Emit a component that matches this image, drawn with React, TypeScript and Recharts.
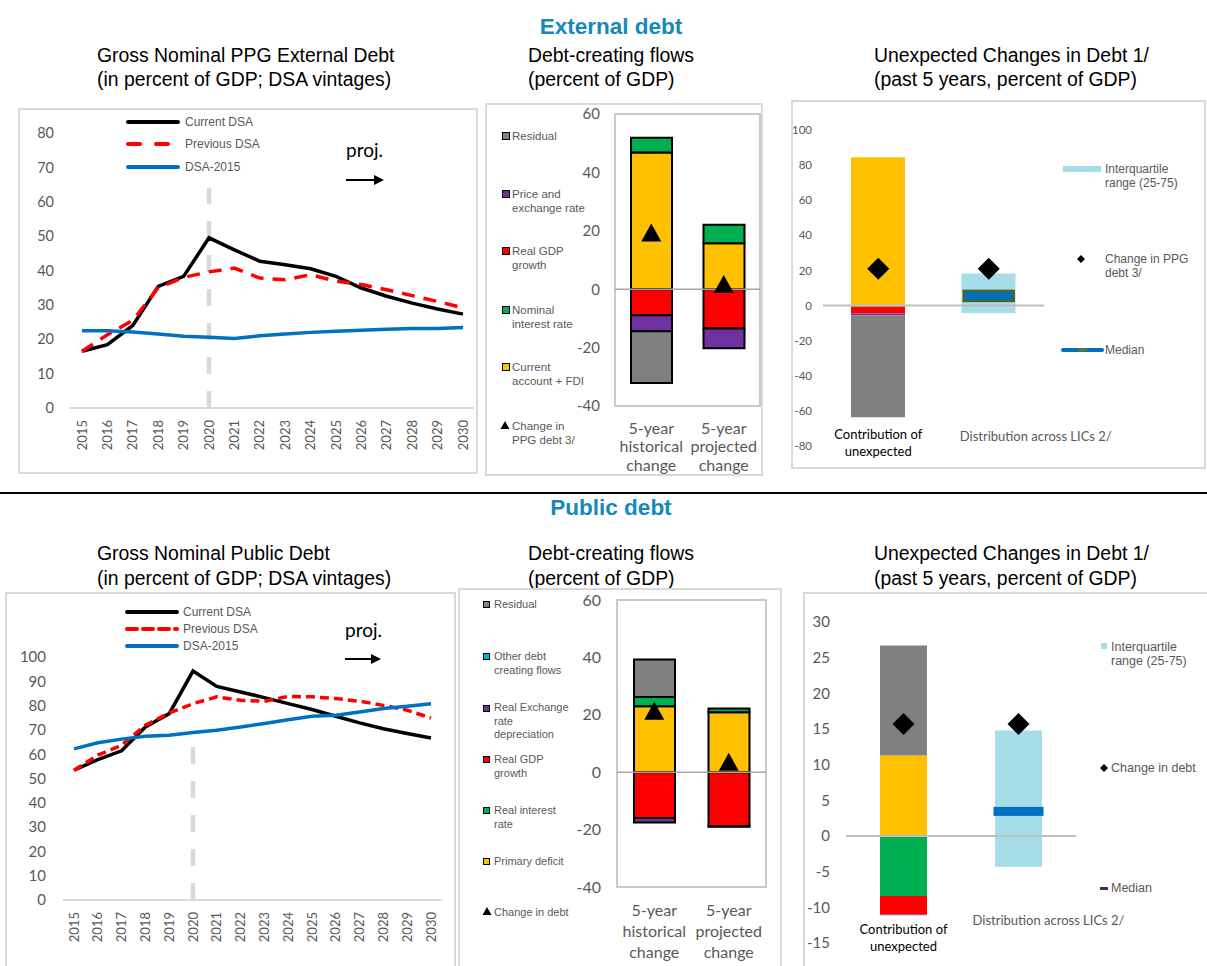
import React from 'react';
import {
  Bar,
  ComposedChart,
  Line,
  LineChart,
  ReferenceArea,
  ReferenceLine,
  XAxis,
  YAxis,
} from 'recharts';

// ---- data -------------------------------------------------------------

const YEARS = [
  '2015', '2016', '2017', '2018', '2019', '2020', '2021', '2022',
  '2023', '2024', '2025', '2026', '2027', '2028', '2029', '2030',
];

const EXT_CURRENT = [16.5, 18.4, 24.0, 35.4, 38.3, 49.5, 46.0, 42.7, 41.7, 40.5, 38.3, 34.9, 32.5, 30.5, 28.8, 27.3];
const EXT_PREVIOUS = [16.5, 21.3, 25.5, 35.0, 38.0, 39.6, 40.7, 37.8, 37.3, 38.8, 36.9, 35.9, 34.4, 32.7, 31.0, 29.1];
const EXT_DSA2015 = [22.5, 22.5, 22.1, 21.5, 20.9, 20.6, 20.2, 21.0, 21.5, 22.0, 22.3, 22.6, 22.9, 23.1, 23.1, 23.4];

const PUB_CURRENT = [53.4, 57.8, 61.4, 71.2, 76.7, 94.2, 87.9, 85.6, 83.3, 80.8, 78.4, 75.6, 72.9, 70.5, 68.5, 66.7];
const PUB_PREVIOUS = [53.4, 59.6, 63.7, 71.9, 77.0, 80.8, 83.6, 82.2, 81.8, 83.8, 83.6, 82.9, 81.8, 80.1, 78.1, 74.9];
const PUB_DSA2015 = [62.2, 64.7, 66.2, 67.4, 67.8, 68.9, 69.9, 71.2, 72.6, 74.2, 75.6, 76.0, 77.4, 78.8, 79.7, 80.8];

const EXT_TICKS = [0, 10, 20, 30, 40, 50, 60, 70, 80];
const PUB_TICKS = [0, 10, 20, 30, 40, 50, 60, 70, 80, 90, 100];

const FLOW_CATS = ['5-year historical change', '5-year projected change'];

// external debt-creating flows
const EXT_FLOW_CA = [46.8, 15.7];
const EXT_FLOW_INTEREST = [5.1, 6.4];
const EXT_FLOW_GDP = [-8.9, -13.5];
const EXT_FLOW_PRICE = [-5.5, -6.7];
const EXT_FLOW_RESIDUAL = [-17.7, 0];
const EXT_FLOW_CHANGE = [19.4, 1.8];

// public debt-creating flows
const PUB_FLOW_PRIMARY = [23.0, 20.9];
const PUB_FLOW_INTEREST = [3.2, 1.3];
const PUB_FLOW_GDP = [-16.0, -18.8];
const PUB_FLOW_RER = [-1.5, -0.2];
const PUB_FLOW_OTHER = [0, 0];
const PUB_FLOW_RESIDUAL = [13.1, 0];
const PUB_FLOW_CHANGE = [21.4, 3.6];

const FLOW_TICKS = [-40, -20, 0, 20, 40, 60];

// unexpected changes, external
const UNEXP_CATS = ['Contribution of unexpected', 'Distribution across LICs 2/'];
const EXT_UNEXP_CA = [84.5, 0];
const EXT_UNEXP_INTEREST = [-0.7, 0];
const EXT_UNEXP_GDP = [-3.8, 0];
const EXT_UNEXP_PRICE = [-1.0, 0];
const EXT_UNEXP_RESIDUAL = [-58.1, 0];
const EXT_IQR_LOW = [0, -4.2];
const EXT_IQR_HIGH = [0, 18.2];
const EXT_MEDIAN = [null, 5.5];
const EXT_UNEXP_CHANGE = [20.9, 20.9];
const EXT_UNEXP_TICKS = [-80, -60, -40, -20, 0, 20, 40, 60, 80, 100];

// unexpected changes, public
const PUB_UNEXP_PRIMARY = [11.3, 0];
const PUB_UNEXP_INTEREST = [-8.4, 0];
const PUB_UNEXP_GDP = [-2.6, 0];
const PUB_UNEXP_RER = [-0.1, 0];
const PUB_UNEXP_RESIDUAL = [15.4, 0];
const PUB_IQR_LOW = [0, -4.3];
const PUB_IQR_HIGH = [0, 14.8];
const PUB_MEDIAN = [null, 3.45];
const PUB_UNEXP_CHANGE = [15.7, 15.7];
const PUB_UNEXP_TICKS = [-15, -10, -5, 0, 5, 10, 15, 20, 25, 30];

const EXT_UNEXP_LABELS = [['Contribution  of', 'unexpected'], ['Distribution  across  LICs 2/']];
const PUB_UNEXP_LABELS = [['Contribution  of', 'unexpected'], ['Distribution across LICs  2/']];

// ---- styles -----------------------------------------------------------

const ARIAL = '"Liberation Sans", Arial, sans-serif';
const CAL = 'Lato, "Open Sans", sans-serif';
const GRAY_TEXT = '#595959';
const BOX = '#d9d9d9';
const YELLOW = '#ffc000';
const GREEN = '#00b050';
const RED = '#ff0000';
const PURPLE = '#7030a0';
const GREY = '#808080';
const CYAN = '#00b0f0';
const LIGHT_BLUE = '#a5dde8';
const BLUE = '#0070c0';
const SECTION_BLUE = '#1589b9';

const extLineData = YEARS.map((year, i) => ({
  year,
  current: EXT_CURRENT[i],
  previous: EXT_PREVIOUS[i],
  dsa2015: EXT_DSA2015[i],
}));

const pubLineData = YEARS.map((year, i) => ({
  year,
  current: PUB_CURRENT[i],
  previous: PUB_PREVIOUS[i],
  dsa2015: PUB_DSA2015[i],
}));

const extFlowData = FLOW_CATS.map((cat, i) => ({
  cat,
  ca: EXT_FLOW_CA[i],
  interest: EXT_FLOW_INTEREST[i],
  gdp: EXT_FLOW_GDP[i],
  price: EXT_FLOW_PRICE[i],
  residual: EXT_FLOW_RESIDUAL[i],
  change: EXT_FLOW_CHANGE[i],
}));

const pubFlowData = FLOW_CATS.map((cat, i) => ({
  cat,
  primary: PUB_FLOW_PRIMARY[i],
  interest: PUB_FLOW_INTEREST[i],
  gdp: PUB_FLOW_GDP[i],
  rer: PUB_FLOW_RER[i],
  other: PUB_FLOW_OTHER[i],
  residual: PUB_FLOW_RESIDUAL[i],
  change: PUB_FLOW_CHANGE[i],
}));

const extUnexpData = UNEXP_CATS.map((cat, i) => ({
  cat,
  ca: EXT_UNEXP_CA[i],
  interest: EXT_UNEXP_INTEREST[i],
  gdp: EXT_UNEXP_GDP[i],
  price: EXT_UNEXP_PRICE[i],
  residual: EXT_UNEXP_RESIDUAL[i],
  iqrLow: EXT_IQR_LOW[i],
  iqrHigh: EXT_IQR_HIGH[i],
  median: EXT_MEDIAN[i],
  change: EXT_UNEXP_CHANGE[i],
}));

const pubUnexpData = UNEXP_CATS.map((cat, i) => ({
  cat,
  primary: PUB_UNEXP_PRIMARY[i],
  interest: PUB_UNEXP_INTEREST[i],
  gdp: PUB_UNEXP_GDP[i],
  rer: PUB_UNEXP_RER[i],
  residual: PUB_UNEXP_RESIDUAL[i],
  iqrLow: PUB_IQR_LOW[i],
  iqrHigh: PUB_IQR_HIGH[i],
  median: PUB_MEDIAN[i],
  change: PUB_UNEXP_CHANGE[i],
}));

// ---- small shapes -----------------------------------------------------

function YearTick({ x, y, payload }: any) {
  return (
    <g transform={`translate(${x},${y}) rotate(-90)`}>
      <text x={0} y={0} dy="0.35em" textAnchor="end" fill={GRAY_TEXT} fontSize={13} fontFamily={CAL}>
        {payload.value}
      </text>
    </g>
  );
}

function makeFlowTick(first: number, step: number) {
  return ({ x, y, payload }: any) => (
    <text x={x} y={y} textAnchor="middle" fill={GRAY_TEXT} fontSize={16} fontFamily={CAL}>
      {String(payload.value)
        .split(' ')
        .map((w, i) => (
          <tspan key={w} x={x} y={y + first + i * step} dy="0.35em">
            {w}
          </tspan>
        ))}
    </text>
  );
}

function makeUnexpTick(labels: string[][], offsets: { dx: number; dy: number[] }[]) {
  return ({ x, y, index }: any) => {
    const lines = labels[index] || [];
    const off = offsets[index];
    return (
      <text
        x={x + off.dx}
        y={y}
        textAnchor="middle"
        fill={index === 0 ? '#000' : GRAY_TEXT}
        fontSize={13}
        fontFamily={CAL}
      >
        {lines.map((l, i) => (
          <tspan key={l} x={x + off.dx} y={y + off.dy[i]} dy="0.35em">
            {l}
          </tspan>
        ))}
      </text>
    );
  };
}

const triangleDot = (props: any) => {
  const { cx, cy, index } = props;
  if (cx == null || cy == null || Number.isNaN(cy)) return <g key={`t${index}`} />;
  return (
    <polygon
      key={`t${index}`}
      points={`${cx},${cy - 9} ${cx + 10},${cy + 9} ${cx - 10},${cy + 9}`}
      fill="#000"
    />
  );
};

const diamondDot = (props: any) => {
  const { cx, cy, index } = props;
  if (cx == null || cy == null || Number.isNaN(cy)) return <g key={`d${index}`} />;
  return (
    <polygon
      key={`d${index}`}
      points={`${cx},${cy - 11} ${cx + 11},${cy} ${cx},${cy + 11} ${cx - 11},${cy}`}
      fill="#000"
    />
  );
};

function makeMedianDot(w: number, h: number, stroke?: string) {
  return (props: any) => {
    const { cx, cy, index } = props;
    if (cx == null || cy == null || Number.isNaN(cy)) return <g key={`m${index}`} />;
    return (
      <rect
        key={`m${index}`}
        x={cx - w / 2}
        y={cy - h / 2}
        width={w}
        height={h}
        fill={BLUE}
        stroke={stroke || 'none'}
        strokeWidth={stroke ? 2.5 : 0}
      />
    );
  };
}

// ---- layout helpers ---------------------------------------------------

const Box = ({ left, top, width, height }: any) => (
  <div
    style={{
      position: 'absolute',
      left,
      top,
      width,
      height,
      border: `2px solid ${BOX}`,
      boxSizing: 'border-box',
    }}
  />
);

// panel titles are left-aligned blocks
const Title = ({ left, top, lines, lineHeight }: any) => (
  <div
    style={{
      position: 'absolute',
      left,
      top,
      fontFamily: ARIAL,
      fontSize: 19.4,
      lineHeight: `${lineHeight}px`,
      color: '#000',
      whiteSpace: 'pre',
    }}
  >
    {lines.join('\n')}
  </div>
);

const SectionTitle = ({ cy, text }: any) => (
  <div
    style={{
      position: 'absolute',
      left: 411,
      top: cy - 14,
      width: 400,
      textAlign: 'center',
      fontFamily: ARIAL,
      fontWeight: 'bold',
      fontSize: 22.5,
      lineHeight: '28px',
      color: SECTION_BLUE,
    }}
  >
    {text}
  </div>
);

// cy = centre of the first line
const LegendText = ({ left, cy, text, size, lh }: any) => (
  <div
    style={{
      position: 'absolute',
      left,
      top: cy - lh / 2,
      fontFamily: ARIAL,
      fontSize: size,
      lineHeight: `${lh}px`,
      color: GRAY_TEXT,
      whiteSpace: 'pre',
    }}
  >
    {text}
  </div>
);

const Square = ({ left, cy, size, color }: any) => (
  <div
    style={{
      position: 'absolute',
      left,
      top: cy - size / 2,
      width: size,
      height: size,
      background: color,
      border: '1px solid #000',
      boxSizing: 'border-box',
    }}
  />
);

const SmallTriangle = ({ left, cy }: any) => (
  <svg style={{ position: 'absolute', left, top: cy - 5 }} width={10} height={10}>
    <polygon points="5,1 9.5,9 0.5,9" fill="#000" />
  </svg>
);

const SmallDiamond = ({ cx, cy }: any) => (
  <svg style={{ position: 'absolute', left: cx - 4, top: cy - 4 }} width={8} height={8}>
    <polygon points="4,0 8,4 4,8 0,4" fill="#000" />
  </svg>
);

const LineLegend = ({ left, rows, dash, textLeft }: any) => (
  <>
    {rows.map((r: any) => (
      <React.Fragment key={r.label}>
        <svg style={{ position: 'absolute', left, top: r.cy - 4 }} width={54} height={8}>
          <line
            x1={2}
            y1={4}
            x2={52}
            y2={4}
            stroke={r.color}
            strokeWidth={4}
            strokeLinecap="round"
            strokeDasharray={r.dashed ? dash : undefined}
          />
        </svg>
        <LegendText left={textLeft} cy={r.cy} text={r.label} size={12} lh={14} />
      </React.Fragment>
    ))}
  </>
);

const Proj = ({ left, textCy, arrowY, arrowLen }: any) => (
  <>
    <div
      style={{
        position: 'absolute',
        left,
        top: textCy - 12,
        fontFamily: CAL,
        fontSize: 19,
        lineHeight: '24px',
        color: '#000',
      }}
    >
      proj.
    </div>
    <svg style={{ position: 'absolute', left, top: arrowY - 6 }} width={arrowLen + 2} height={12}>
      <line x1={0} y1={6} x2={arrowLen - 8} y2={6} stroke="#000" strokeWidth={2} />
      <polygon points={`${arrowLen - 10},1 ${arrowLen},6 ${arrowLen - 10},11`} fill="#000" />
    </svg>
  </>
);

// ---- panels -----------------------------------------------------------

function DebtLines({ pos, data, yMax, ticks, margin, yWidth, pad, tickFont, tickGap, redDash, projTop }: any) {
  return (
    <div style={{ position: 'absolute', left: pos.left, top: pos.top }}>
      <LineChart width={pos.width} height={pos.height} data={data} margin={margin}>
        <XAxis
          dataKey="year"
          interval={0}
          padding={pad}
          tick={<YearTick />}
          tickLine={false}
          tickSize={0}
          tickMargin={12}
          height={60}
          axisLine={{ stroke: BOX, strokeWidth: 2 }}
        />
        <YAxis
          domain={[0, yMax]}
          ticks={ticks}
          interval={0}
          width={yWidth}
          axisLine={false}
          tickLine={false}
          tickSize={0}
          tickMargin={tickGap}
          tick={{ fill: GRAY_TEXT, fontSize: tickFont, fontFamily: CAL }}
        />
        <ReferenceLine
          segment={[
            { x: '2020', y: 0 },
            { x: '2020', y: projTop },
          ]}
          stroke={BOX}
          strokeWidth={4.5}
          strokeDasharray="17 17"
        />
        <Line dataKey="current" stroke="#000" strokeWidth={3.5} dot={false} isAnimationActive={false} />
        <Line
          dataKey="previous"
          stroke={RED}
          strokeWidth={3.5}
          strokeDasharray={redDash}
          dot={false}
          isAnimationActive={false}
        />
        <Line dataKey="dsa2015" stroke={BLUE} strokeWidth={3.5} dot={false} isAnimationActive={false} />
      </LineChart>
    </div>
  );
}

function FlowBars({ pos, data, series, margin, yWidth, tickFont, tickGap, xHeight, tick }: any) {
  return (
    <div style={{ position: 'absolute', left: pos.left, top: pos.top }}>
      <ComposedChart width={pos.width} height={pos.height} data={data} margin={margin} stackOffset="sign">
        <XAxis
          dataKey="cat"
          interval={0}
          tick={tick}
          tickLine={false}
          tickSize={0}
          tickMargin={0}
          axisLine={false}
          height={xHeight}
        />
        <YAxis
          domain={[-40, 60]}
          ticks={FLOW_TICKS}
          interval={0}
          width={yWidth}
          axisLine={false}
          tickLine={false}
          tickSize={0}
          tickMargin={tickGap}
          tick={{ fill: GRAY_TEXT, fontSize: tickFont, fontFamily: CAL }}
        />
        <ReferenceArea y1={-40} y2={60} fill="none" stroke="#c9c9c9" strokeWidth={2} />
        <ReferenceLine y={0} stroke="#a6a6a6" strokeWidth={1.5} />
        {series.map((s: any) => (
          <Bar
            key={s.key}
            dataKey={s.key}
            stackId="a"
            fill={s.color}
            stroke="#000"
            strokeWidth={2}
            barSize={41}
            isAnimationActive={false}
          />
        ))}
        <Line dataKey="change" stroke="none" dot={triangleDot} activeDot={false} isAnimationActive={false} />
      </ComposedChart>
    </div>
  );
}

function UnexpBars({ pos, data, series, domain, ticks, margin, yWidth, tickFont, tickGap, xHeight, tick, barSize, medianDot }: any) {
  return (
    <div style={{ position: 'absolute', left: pos.left, top: pos.top }}>
      <ComposedChart width={pos.width} height={pos.height} data={data} margin={margin} stackOffset="sign">
        <XAxis
          dataKey="cat"
          interval={0}
          tick={tick}
          tickLine={false}
          tickSize={0}
          tickMargin={0}
          axisLine={false}
          height={xHeight}
        />
        <YAxis
          domain={domain}
          ticks={ticks}
          interval={0}
          width={yWidth}
          axisLine={false}
          tickLine={false}
          tickSize={0}
          tickMargin={tickGap}
          tick={{ fill: GRAY_TEXT, fontSize: tickFont, fontFamily: CAL }}
        />
        {series.map((s: any) => (
          <Bar key={s.key} dataKey={s.key} stackId="a" fill={s.color} barSize={barSize} isAnimationActive={false} />
        ))}
        <Bar dataKey="iqrHigh" stackId="a" fill={LIGHT_BLUE} barSize={barSize} isAnimationActive={false} />
        <Bar dataKey="iqrLow" stackId="a" fill={LIGHT_BLUE} barSize={barSize} isAnimationActive={false} />
        <ReferenceLine y={0} stroke="#bfbfbf" strokeWidth={2} />
        <Line dataKey="median" stroke="none" dot={medianDot} activeDot={false} isAnimationActive={false} />
        <Line dataKey="change" stroke="none" dot={diamondDot} activeDot={false} isAnimationActive={false} />
      </ComposedChart>
    </div>
  );
}

// ---- app --------------------------------------------------------------

export default function App() {
  return (
    <div
      style={{
        position: 'absolute',
        left: 0,
        top: 0,
        width: 1207,
        height: 966,
        background: '#fff',
        overflow: 'hidden',
      }}
    >
      <SectionTitle cy={27} text="External debt" />
      <Title left={97} top={43} lineHeight={24} lines={['Gross Nominal PPG External Debt', '(in percent of GDP; DSA vintages)']} />
      <Title left={528} top={43} lineHeight={24} lines={['Debt-creating flows', '(percent of GDP)']} />
      <Title left={874} top={43} lineHeight={24} lines={['Unexpected Changes in Debt 1/', '(past 5 years, percent of GDP)']} />

      {/* top left: PPG external debt vintages */}
      <Box left={18} top={108} width={460} height={366} />
      <DebtLines
        pos={{ left: 18, top: 108, width: 460, height: 365 }}
        data={extLineData}
        yMax={80}
        ticks={EXT_TICKS}
        margin={{ top: 25, right: 4, bottom: 5, left: 0 }}
        yWidth={51}
        pad={{ left: 13, right: 11 }}
        tickFont={14.5}
        tickGap={15}
        redDash="13 9"
        projTop={64}
      />
      <LineLegend
        left={126}
        textLeft={185}
        dash="12 16"
        rows={[
          { label: 'Current DSA', color: '#000', cy: 122 },
          { label: 'Previous DSA', color: RED, cy: 144, dashed: true },
          { label: 'DSA-2015', color: BLUE, cy: 167 },
        ]}
      />
      <Proj left={346} textCy={150} arrowY={180} arrowLen={38} />

      {/* top middle: external debt-creating flows */}
      <Box left={485} top={103} width={278} height={373} />
      <FlowBars
        pos={{ left: 485, top: 103, width: 278, height: 372 }}
        data={extFlowData}
        series={[
          { key: 'ca', color: YELLOW },
          { key: 'interest', color: GREEN },
          { key: 'gdp', color: RED },
          { key: 'price', color: PURPLE },
          { key: 'residual', color: GREY },
        ]}
        margin={{ top: 11, right: 3, bottom: 0, left: 0 }}
        yWidth={130}
        tickFont={15}
        tickGap={15}
        xHeight={69}
        tick={makeFlowTick(22, 18.5)}
      />
      <Square left={502} cy={136} size={8} color={GREY} />
      <LegendText left={512} cy={136} text="Residual" size={11.5} lh={14} />
      <Square left={502} cy={194} size={8} color={PURPLE} />
      <LegendText left={512} cy={194} text={'Price and\nexchange rate'} size={11.5} lh={14} />
      <Square left={502} cy={251} size={8} color={RED} />
      <LegendText left={512} cy={251} text={'Real GDP\ngrowth'} size={11.5} lh={14} />
      <Square left={502} cy={310} size={8} color={GREEN} />
      <LegendText left={512} cy={310} text={'Nominal\ninterest rate'} size={11.5} lh={14} />
      <Square left={502} cy={367} size={8} color={YELLOW} />
      <LegendText left={512} cy={367} text={'Current\naccount + FDI'} size={11.5} lh={14} />
      <SmallTriangle left={500} cy={425} />
      <LegendText left={512} cy={426} text={'Change in\nPPG debt 3/'} size={11.5} lh={14} />

      {/* top right: unexpected changes, external */}
      <Box left={791} top={100} width={415} height={369} />
      <UnexpBars
        pos={{ left: 791, top: 100, width: 414, height: 368 }}
        data={extUnexpData}
        series={[
          { key: 'ca', color: YELLOW },
          { key: 'interest', color: GREEN },
          { key: 'gdp', color: RED },
          { key: 'price', color: PURPLE },
          { key: 'residual', color: GREY },
        ]}
        domain={[-80, 100]}
        ticks={EXT_UNEXP_TICKS}
        margin={{ top: 30, right: 161, bottom: 0, left: 0 }}
        yWidth={32}
        tickFont={11.5}
        tickGap={11}
        xHeight={22}
        barSize={54}
        tick={makeUnexpTick(EXT_UNEXP_LABELS, [
          { dx: 0, dy: [-12, 5] },
          { dx: 47, dy: [-10] },
        ])}
        medianDot={makeMedianDot(50, 10, '#4f6228')}
      />
      <div style={{ position: 'absolute', left: 1063, top: 166, width: 38, height: 6, background: LIGHT_BLUE }} />
      <LegendText left={1105} cy={169} text={'Interquartile\nrange (25-75)'} size={12} lh={14} />
      <SmallDiamond cx={1081} cy={259} />
      <LegendText left={1105} cy={259} text={'Change in PPG\ndebt 3/'} size={12} lh={14} />
      <svg style={{ position: 'absolute', left: 1061, top: 346 }} width={44} height={8}>
        <line x1={2} y1={4} x2={41} y2={4} stroke={BLUE} strokeWidth={4} strokeLinecap="round" />
        <line x1={17} y1={4} x2={26} y2={4} stroke="#5b7a2c" strokeWidth={3} />
      </svg>
      <LegendText left={1105} cy={350} text="Median" size={12} lh={14} />

      {/* separator */}
      <div style={{ position: 'absolute', left: 0, top: 492, width: 1207, height: 1.5, background: '#000' }} />

      <SectionTitle cy={508} text="Public debt" />
      <Title left={97} top={541} lineHeight={25} lines={['Gross Nominal Public Debt', '(in percent of GDP; DSA vintages)']} />
      <Title left={528} top={541} lineHeight={25} lines={['Debt-creating flows', '(percent of GDP)']} />
      <Title left={874} top={541} lineHeight={25} lines={['Unexpected Changes in Debt 1/', '(past 5 years, percent of GDP)']} />

      {/* bottom left: public debt vintages */}
      <Box left={5} top={592} width={451} height={380} />
      <DebtLines
        pos={{ left: 5, top: 592, width: 450, height: 372 }}
        data={pubLineData}
        yMax={100}
        ticks={PUB_TICKS}
        margin={{ top: 65, right: 13, bottom: 4, left: 0 }}
        yWidth={58}
        pad={{ left: 11, right: 11 }}
        tickFont={15}
        tickGap={17}
        redDash="9 5"
        projTop={63}
      />
      <LineLegend
        left={125}
        textLeft={183}
        dash="10 6"
        rows={[
          { label: 'Current DSA', color: '#000', cy: 612 },
          { label: 'Previous DSA', color: RED, cy: 629, dashed: true },
          { label: 'DSA-2015', color: BLUE, cy: 646 },
        ]}
      />
      <Proj left={345} textCy={630} arrowY={659} arrowLen={36} />

      {/* bottom middle: public debt-creating flows */}
      <Box left={458} top={588} width={324} height={384} />
      <FlowBars
        pos={{ left: 458, top: 588, width: 324, height: 378 }}
        data={pubFlowData}
        series={[
          { key: 'primary', color: YELLOW },
          { key: 'interest', color: GREEN },
          { key: 'gdp', color: RED },
          { key: 'rer', color: PURPLE },
          { key: 'other', color: CYAN },
          { key: 'residual', color: GREY },
        ]}
        margin={{ top: 12, right: 16, bottom: 0, left: 0 }}
        yWidth={159}
        tickFont={16}
        tickGap={16}
        xHeight={79}
        tick={makeFlowTick(23, 21)}
      />
      <Square left={483} cy={604} size={7} color={GREY} />
      <LegendText left={494} cy={604} text="Residual" size={11} lh={14} />
      <Square left={483} cy={656} size={7} color={CYAN} />
      <LegendText left={494} cy={656} text={'Other debt\ncreating flows'} size={11} lh={14} />
      <Square left={483} cy={708} size={7} color={PURPLE} />
      <LegendText left={494} cy={708} text={'Real Exchange\nrate\ndepreciation'} size={11} lh={13.5} />
      <Square left={483} cy={759} size={7} color={RED} />
      <LegendText left={494} cy={759} text={'Real GDP\ngrowth'} size={11} lh={14} />
      <Square left={483} cy={810} size={7} color={GREEN} />
      <LegendText left={494} cy={810} text={'Real interest\nrate'} size={11} lh={14} />
      <Square left={483} cy={861} size={7} color={YELLOW} />
      <LegendText left={494} cy={861} text="Primary deficit" size={11} lh={14} />
      <SmallTriangle left={482} cy={911} />
      <LegendText left={494} cy={912} text="Change in debt" size={11} lh={14} />

      {/* bottom right: unexpected changes, public */}
      <Box left={803} top={592} width={410} height={380} />
      <UnexpBars
        pos={{ left: 803, top: 592, width: 404, height: 374 }}
        data={pubUnexpData}
        series={[
          { key: 'primary', color: YELLOW },
          { key: 'interest', color: GREEN },
          { key: 'gdp', color: RED },
          { key: 'rer', color: PURPLE },
          { key: 'residual', color: GREY },
        ]}
        domain={[-15, 30]}
        ticks={PUB_UNEXP_TICKS}
        margin={{ top: 30, right: 131, bottom: 0, left: 0 }}
        yWidth={43}
        tickFont={15}
        tickGap={16}
        xHeight={23}
        barSize={47}
        tick={makeUnexpTick(PUB_UNEXP_LABELS, [
          { dx: 0, dy: [-14, 3] },
          { dx: 30, dy: [-23] },
        ])}
        medianDot={makeMedianDot(50, 9)}
      />
      <div style={{ position: 'absolute', left: 1101, top: 643, width: 6, height: 6, background: LIGHT_BLUE }} />
      <LegendText left={1111} cy={647} text={'Interquartile\nrange (25-75)'} size={12.5} lh={14} />
      <SmallDiamond cx={1104} cy={768} />
      <LegendText left={1111} cy={768} text="Change in debt" size={12.5} lh={14} />
      <div style={{ position: 'absolute', left: 1100, top: 887, width: 8, height: 3, background: '#403060' }} />
      <LegendText left={1111} cy={888} text="Median" size={12.5} lh={14} />
    </div>
  );
}
